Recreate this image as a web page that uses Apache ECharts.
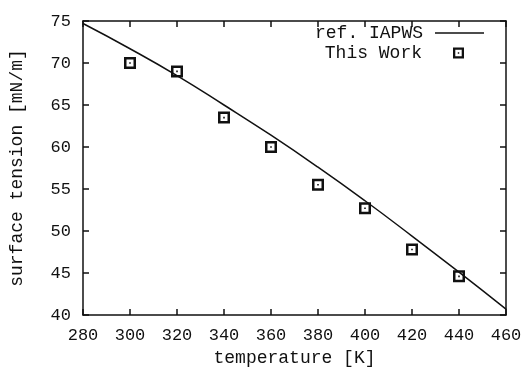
<!DOCTYPE html>
<html>
<head>
<meta charset="utf-8">
<script src="https://cdn.jsdelivr.net/npm/echarts@6/dist/echarts.min.js"></script>
<style>
  html, body { margin: 0; padding: 0; background: #fff; }
  #chart { width: 529px; height: 372px; }
</style>
</head>
<body>
<div id="chart"></div>
<script>
  // reference curve (IAPWS), read at 20 K steps
  const refTemps = [280, 300, 320, 340, 360, 380, 400, 420, 440, 460];
  const refTension = [74.7, 71.7, 68.5, 65.0, 61.4, 57.6, 53.6, 49.4, 45.1, 40.7];

  // this work
  const workTemps = [300, 320, 340, 360, 380, 400, 420, 440];
  const workTension = [70.0, 69.0, 63.5, 60.0, 55.5, 52.7, 47.8, 44.6];

  const font = 'Liberation Mono';
  const ink = '#111';
  // square with a dot in the middle
  const boxDot = 'path://M0,0 H12 V12 H0 Z M2.5,2.5 V9.5 H9.5 V2.5 Z M5.2,5.2 H6.8 V6.8 H5.2 Z';

  const chart = echarts.init(document.getElementById('chart'));

  const axisBase = {
    type: 'value',
    axisLine: { show: true, lineStyle: { color: ink, width: 1.5 } },
    axisTick: { show: true, inside: true, length: 6, lineStyle: { color: ink, width: 1.5 } },
    splitLine: { show: false }
  };

  const legendText = { fontFamily: font, fontSize: 18, color: ink, padding: [0, 7, 0, 0] };

  chart.setOption({
    backgroundColor: '#fff',
    animation: false,
    grid: { left: 81, right: 23, top: 21, bottom: 57 },
    legend: [{
      data: [{ name: 'ref. IAPWS', icon: 'rect' }],
      right: 40,
      top: 19,
      align: 'right',
      itemWidth: 49,
      itemHeight: 1.6,
      textStyle: legendText
    }, {
      data: [{ name: 'This Work', icon: boxDot }],
      right: 60,
      top: 39,
      align: 'right',
      itemWidth: 49,
      itemHeight: 11,
      textStyle: legendText
    }],
    xAxis: [Object.assign({}, axisBase, {
      min: 280, max: 460, interval: 20,
      position: 'bottom',
      name: 'temperature [K]',
      nameLocation: 'middle',
      nameGap: 33,
      nameTextStyle: { fontFamily: font, fontSize: 18, color: ink },
      axisLabel: { fontFamily: font, fontSize: 17, color: ink, margin: 12 }
    }), Object.assign({}, axisBase, {
      min: 280, max: 460, interval: 20,
      position: 'top',
      axisLabel: { show: false }
    })],
    yAxis: [Object.assign({}, axisBase, {
      min: 40, max: 75, interval: 5,
      position: 'left',
      name: 'surface tension [mN/m]',
      nameLocation: 'middle',
      nameGap: 57,
      nameTextStyle: { fontFamily: font, fontSize: 18, color: ink },
      axisLabel: { fontFamily: font, fontSize: 17, color: ink, margin: 12 }
    }), Object.assign({}, axisBase, {
      min: 40, max: 75, interval: 5,
      position: 'right',
      axisLabel: { show: false }
    })],
    series: [{
      name: 'ref. IAPWS',
      type: 'line',
      smooth: true,
      symbol: 'none',
      lineStyle: { color: ink, width: 1.5 },
      itemStyle: { color: ink },
      data: refTemps.map((t, i) => [t, refTension[i]])
    }, {
      name: 'This Work',
      type: 'scatter',
      symbol: boxDot,
      symbolSize: 12,
      itemStyle: { color: ink, opacity: 1 },
      data: workTemps.map((t, i) => [t, workTension[i]])
    }]
  });
</script>
</body>
</html>
